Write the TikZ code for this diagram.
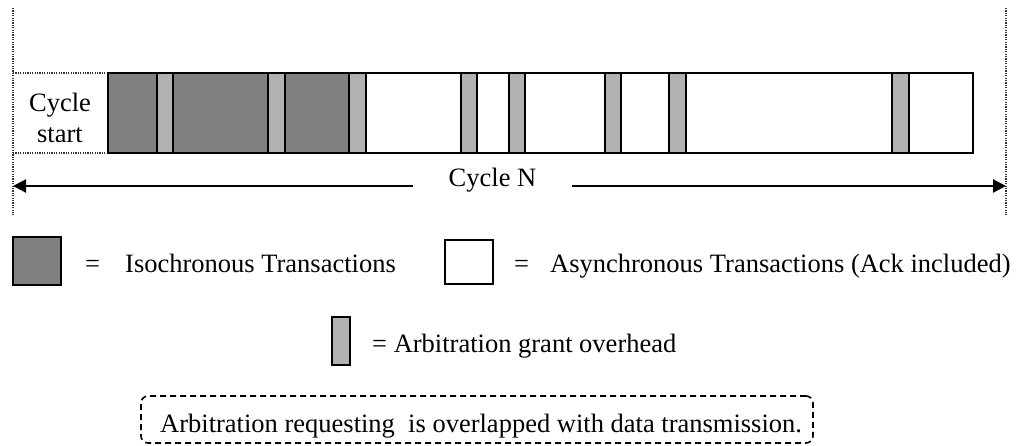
\documentclass[tikz,border=0pt]{standalone}
\usepackage{fontspec}
\setmainfont{Liberation Serif}
\usetikzlibrary{arrows.meta}
\definecolor{iso}{HTML}{808080}
\definecolor{arb}{HTML}{B2B2B2}
\begin{document}
\begin{tikzpicture}[x=1pt,y=-1pt,
  seg/.style={draw=black,line width=2.6pt,minimum height=80pt,inner sep=0pt,anchor=north west,outer sep=0pt},
  isoseg/.style={seg,fill=iso},
  arbseg/.style={seg,fill=arb},
  asyseg/.style={seg,fill=white},
  dotline/.style={line width=1.8pt,dash pattern=on 1.2pt off 1.2pt,black!80},
  txt/.style={font=\fontsize{26.5}{30}\selectfont,inner sep=0pt,anchor=base west},
  tip/.style={-{Triangle[length=13pt,width=13pt]}}
]
\useasboundingbox (0,0) rectangle (1021,445);
% dotted guides
\coordinate (lt) at (13,8);
\coordinate (lb) at (13,215);
\coordinate (rt) at (1006,8);
\coordinate (rb) at (1006,215);
\draw[dotline] (lt) -- (lb);
\draw[dotline] (rt) -- (rb);
\draw[dotline] (13,73) -- (108,73);
\draw[dotline] (13,153) -- (108,153);
\node[font=\fontsize{26.5}{31}\selectfont,align=center,inner sep=0pt] (cs) at (60,118) {Cycle\\start};
% segments
\foreach \a/\b/\s [count=\i] in {108/157/isoseg,157/173/arbseg,173/268/isoseg,268/285/arbseg,285/349/isoseg,349/366/arbseg,366/461/asyseg,461/477/arbseg,477/509/asyseg,509/525/arbseg,525/605/asyseg,605/621/arbseg,621/669/asyseg,669/686/arbseg,686/892/asyseg,892/909/arbseg,909/973/asyseg}
  \node[\s,minimum width={(\b-\a)*1pt}] (s\i) at (\a,73) {};
% cycle N arrow
\coordinate (al) at (13,186);
\coordinate (ar) at (1006,186);
\node[font=\fontsize{26.5}{30}\selectfont,inner xsep=35.5pt,inner ysep=0pt] (cn) at (492.5,180) {Cycle N};
\draw[line width=2.2pt,tip] (cn.west|-al) -- (al);
\draw[line width=2.2pt,tip] (cn.east|-ar) -- (ar);
% legend
\node[seg,fill=iso,minimum width=48pt,minimum height=48pt] (lg1) at (13,237) {};
\node[txt] (eq1) at (85,272) {=};
\node[txt] (t1) at (125,272) {Isochronous Transactions};
\node[seg,fill=white,minimum width=48pt,minimum height=44pt] (lg2) at (445,240) {};
\node[txt] (eq2) at (514,272) {=};
\node[txt] (t2) at (550,272) {Asynchronous Transactions (Ack included)};
\node[seg,fill=arb,minimum width=18pt,minimum height=48pt] (lg3) at (332,317) {};
\node[txt] (t3) at (372,352) {=\ Arbitration grant overhead};
% note
\node[draw,line width=1.6pt,rounded corners=7pt,dash pattern=on 6pt off 4pt,minimum width=672pt,minimum height=47pt,inner sep=0pt] (note) at (477,419.5) {};
\node[txt] (nt) at (160,432) {Arbitration requesting\ \ is overlapped with data transmission.};
\end{tikzpicture}
\end{document}
